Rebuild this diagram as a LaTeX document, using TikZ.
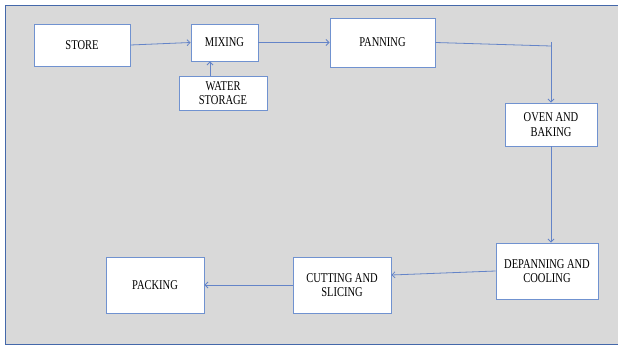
\documentclass[tikz,border=0pt]{standalone}
\usepackage{fontspec}
\setmainfont{Liberation Serif}
\usetikzlibrary{arrows.meta,calc}
\definecolor{bggrey}{RGB}{217,217,217}
\definecolor{framecol}{RGB}{68,104,170}
\definecolor{boxcol}{RGB}{112,146,208}
\definecolor{arrcol}{RGB}{100,132,200}
\newcommand\lbl[1]{\raisebox{-1.5pt}[\height][\depth]{\scalebox{1}[1.28]{\begin{tabular}{@{}c@{}}#1\end{tabular}}}}
\tikzset{
  stepbox/.style={draw=boxcol, line width=0.9pt, fill=white, inner sep=0pt,
    font=\fontsize{10.5}{11.5}\selectfont, text=black, align=center},
  flow/.style={draw=arrcol, line width=0.8pt, -{Straight Barb[length=3pt,width=6pt]}},
  plain/.style={draw=arrcol, line width=0.8pt}
}
\begin{document}
\begin{tikzpicture}[x=1pt,y=-1pt]
\useasboundingbox (0,0) rectangle (618,345);
\fill[bggrey] (5,6) rectangle (618,344);
\draw[framecol, line width=1pt] (618,6) -- (5,6) -- (5,344) -- (618,344);

\node[stepbox, minimum width=96pt, minimum height=42pt] (store) at (82,45) {\lbl{STORE}};
\node[stepbox, minimum width=67pt, minimum height=37pt] (mixing) at (224.5,42.5) {\lbl{MIXING}};
\node[stepbox, minimum width=88pt, minimum height=34pt] (water) at (223,93) {\lbl{WATER\\STORAGE}};
\node[stepbox, minimum width=105pt, minimum height=49pt] (panning) at (382.5,42.5) {\lbl{PANNING}};
\node[stepbox, minimum width=92pt, minimum height=43pt] (oven) at (551,124.5) {\lbl{OVEN AND\\BAKING}};
\node[stepbox, minimum width=102pt, minimum height=56pt] (depan) at (547,271) {\lbl{DEPANNING AND\\COOLING}};
\node[stepbox, minimum width=98pt, minimum height=56pt] (cutting) at (342,285) {\lbl{CUTTING AND\\SLICING}};
\node[stepbox, minimum width=98pt, minimum height=56pt] (packing) at (155,285) {\lbl{PACKING}};

\coordinate (wx) at (210,0);
\coordinate (corner) at (551,46);
\coordinate (cornertop) at (551,42);

\draw[flow] (store.east) -- (mixing.west);
\draw[flow] (mixing.east) -- (panning.west);
\draw[flow] (water.north -| wx) -- (mixing.south -| wx);
\draw[plain] (panning.east) -- (corner);
\draw[flow] (cornertop) -- (oven.north);
\draw[flow] (oven.south) -- (oven.south |- depan.north);
\draw[flow] (depan.west) -- ([yshift=10pt]cutting.east);
\draw[flow] (cutting.west) -- (packing.east);
\end{tikzpicture}
\end{document}
